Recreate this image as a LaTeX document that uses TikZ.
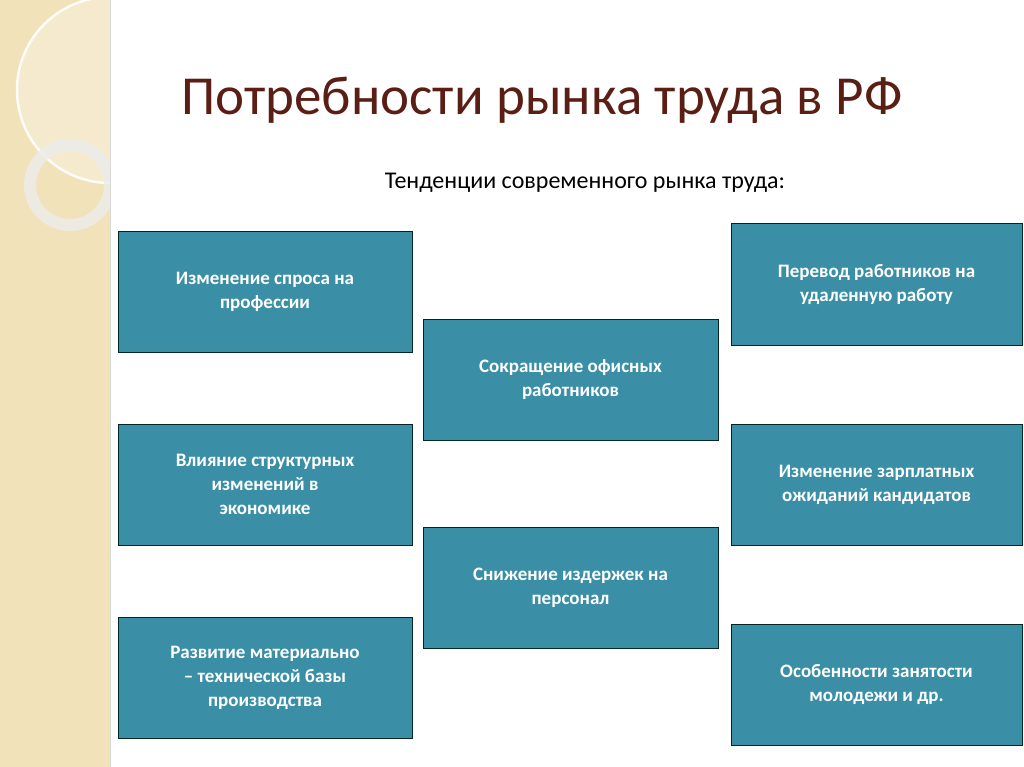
\documentclass[tikz,border=0pt]{standalone}
\usepackage{fontspec}
\setmainfont{Carlito}
\begin{document}
\begin{tikzpicture}[x=1pt,y=-1pt,
  box/.style={draw=black!70!teal,line width=1pt,fill=boxc,text=white,font=\bfseries\fontsize{19}{24}\selectfont,align=center,inner sep=0pt},
  ]
\definecolor{boxc}{HTML}{3A8FA6}
\definecolor{stripc}{HTML}{F2E2BA}
\definecolor{titlec}{HTML}{5A1E14}
\useasboundingbox (0,0) rectangle (1024,767);
\fill[white] (0,0) rectangle (1024,767);
\fill[stripc] (0,0) rectangle (110,767);
\begin{scope}
\clip (0,0) rectangle (110,767);
\fill[white,opacity=0.3] (110,90) circle (93);
\draw[white!90!stripc,line width=2.5pt] (110,90) circle (93);
\draw[white!85!gray,line width=12pt,opacity=0.8] (70,185) circle (40);
\end{scope}
\draw[black!15,line width=1pt] (110,0) -- (110,767);
\node[text=titlec,font=\fontsize{55}{60}\selectfont] (title) at (542,100) {Потребности рынка труда в РФ};
\node[font=\fontsize{24}{28}\selectfont] (sub) at (585,183) {Тенденции современного рынка труда:};
\node[box,minimum width=294,minimum height=120] (l1) at (265,292) {Изменение спроса на\\профессии};
\node[box,minimum width=294,minimum height=121] (l2) at (265,484.5) {Влияние структурных\\изменений в\\экономике};
\node[box,minimum width=294,minimum height=121] (l3) at (265,677.5) {Развитие материально\\– технической базы\\производства};
\node[box,minimum width=295,minimum height=121] (m1) at (570.5,379.5) {Сокращение офисных\\работников};
\node[box,minimum width=295,minimum height=121] (m2) at (570.5,587.5) {Снижение издержек на\\персонал};
\node[box,minimum width=291,minimum height=121] (r1) at (876.5,284.5) {Перевод работников на\\удаленную работу};
\node[box,minimum width=291,minimum height=121] (r2) at (876.5,484.5) {Изменение зарплатных\\ожиданий кандидатов};
\node[box,minimum width=291,minimum height=121] (r3) at (876.5,684.5) {Особенности занятости\\молодежи и др.};
\end{tikzpicture}
\end{document}
